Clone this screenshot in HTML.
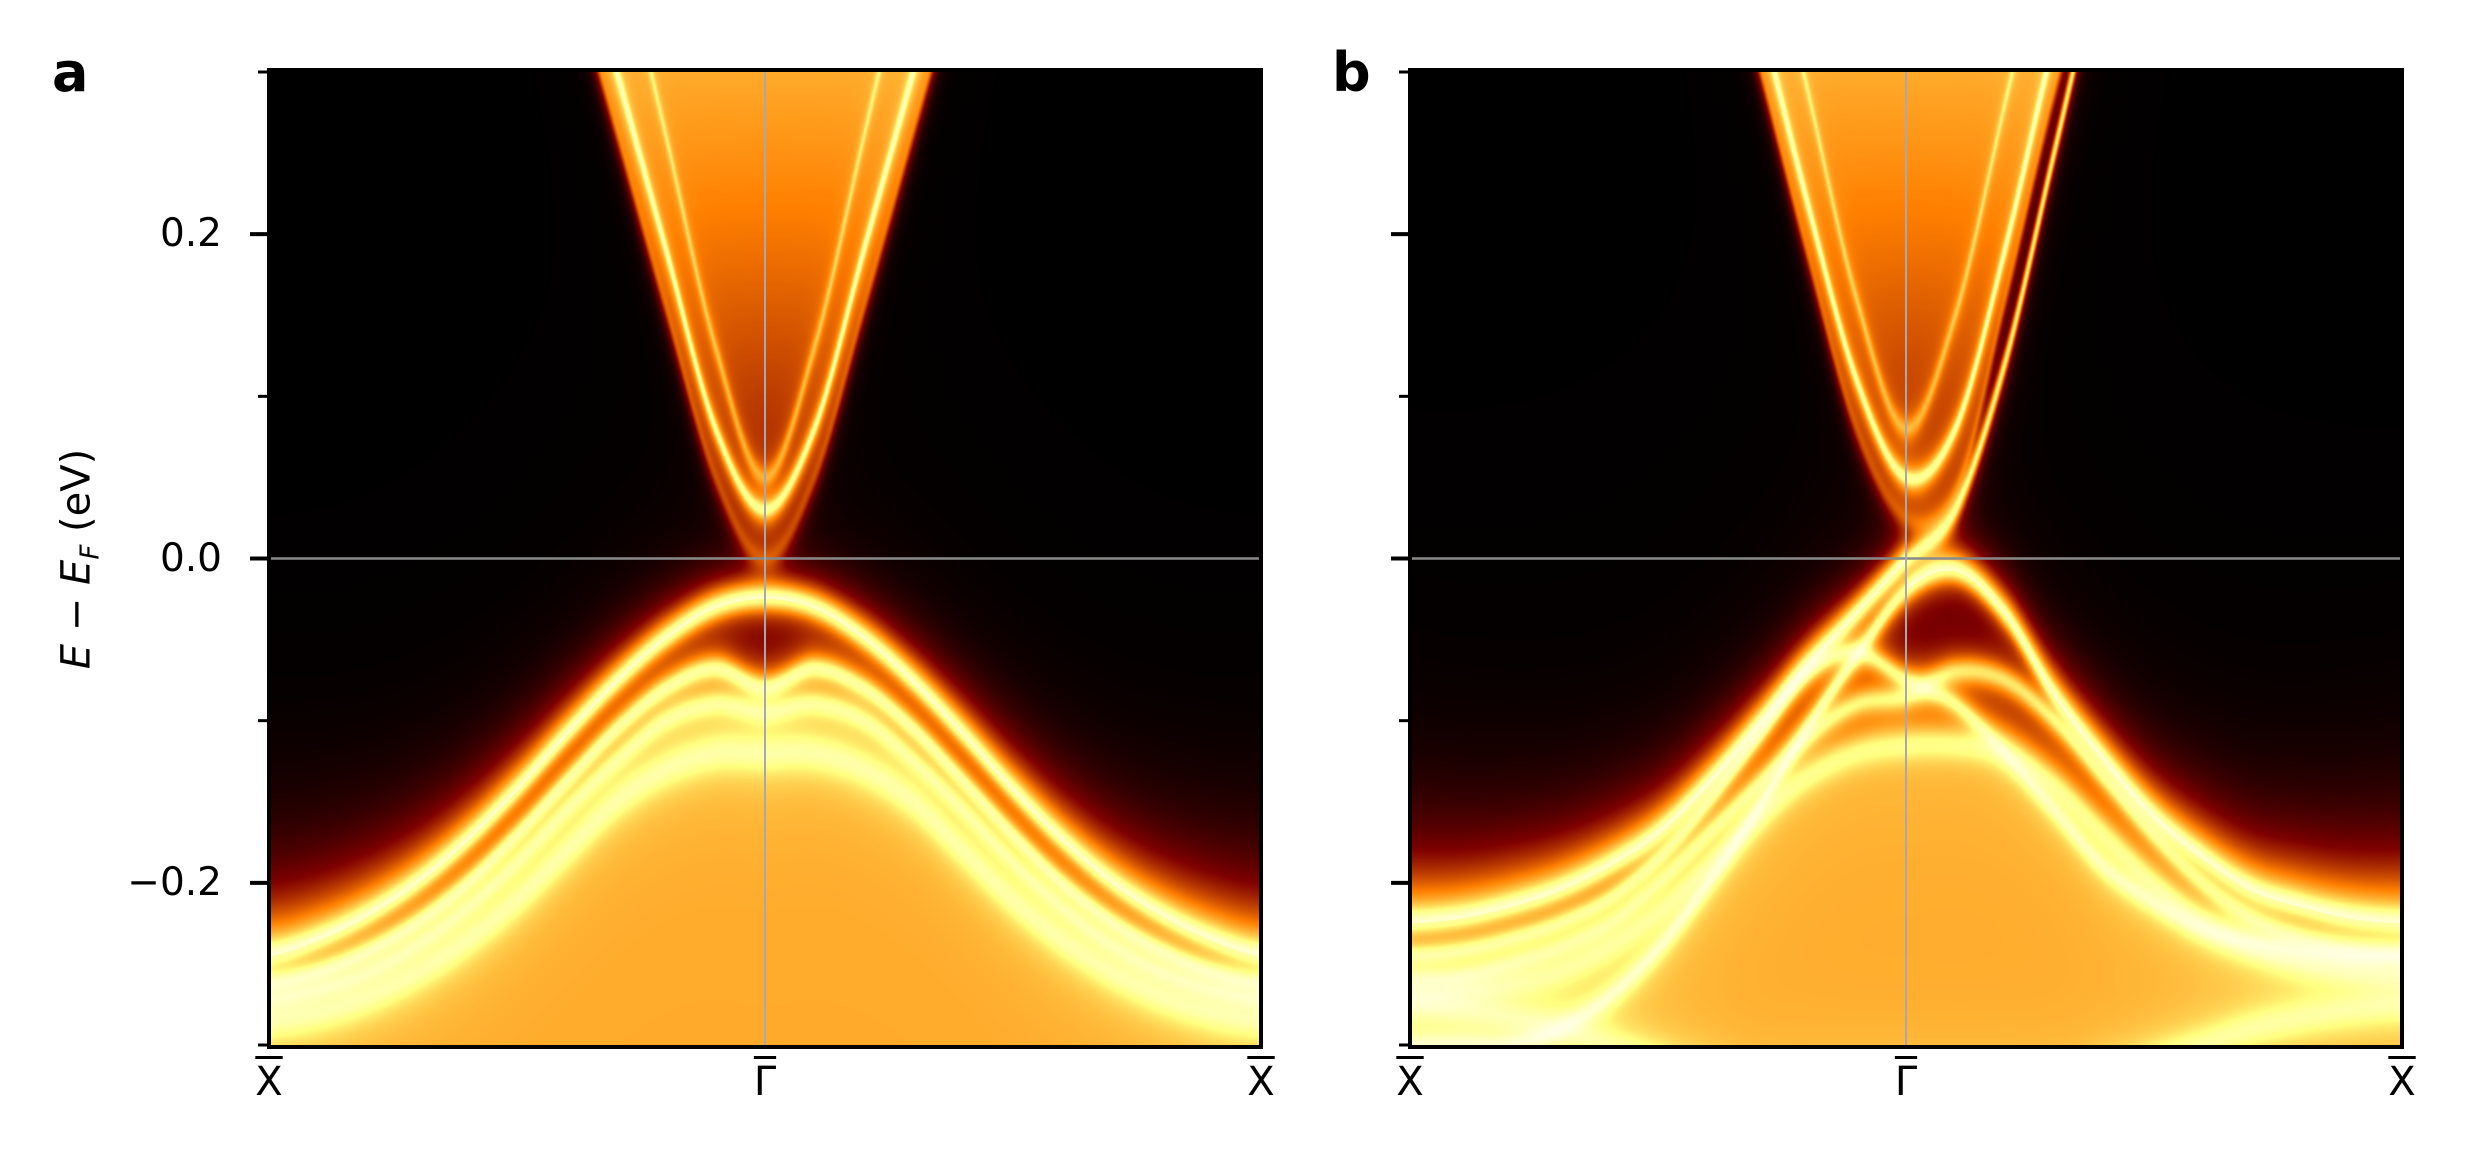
<!DOCTYPE html>
<html><head><meta charset="utf-8">
<style>
body{margin:0;background:#fff;width:2480px;height:1176px;overflow:hidden;position:relative;font-family:"DejaVu Sans","Liberation Sans",sans-serif;}
.panel{position:absolute;top:68px;width:996px;height:981px;box-sizing:border-box;border:4px solid #000;background:#000;}
.panel canvas{position:absolute;left:0;top:0;width:988px;height:973px;}
.lbl{position:absolute;font-size:39px;color:#000;line-height:1;white-space:nowrap;}
.xl{position:absolute;top:1062px;font-size:40px;line-height:1;transform:translateX(-50%);text-decoration:overline;text-decoration-thickness:3px;}
.letter{position:absolute;font-weight:bold;font-size:54px;line-height:1;}
</style></head><body>
<div class="letter" style="left:52px;top:46px;">a</div>
<div class="letter" style="left:1332px;top:46px;">b</div>
<div class="panel" id="pa" style="left:267px;"><canvas id="ca" width="988" height="973"></canvas></div>
<div class="panel" id="pb" style="left:1408px;"><canvas id="cb" width="988" height="973"></canvas></div>
<div class="lbl" style="left:80px;top:559px;transform:translate(-50%,-50%) rotate(-90deg);font-size:40px;"><i>E</i> − <i>E</i><sub style="font-size:26px;"><i>F</i></sub> (eV)</div>
<svg id="ax" width="2480" height="1176" style="position:absolute;left:0;top:0;"></svg>
<div id="labels"></div>
<script>
// ---- data ----
const kNodes = [0,0.05,0.1,0.15,0.2,0.25,0.3,0.35,0.4,0.45,0.5,0.55,0.6,0.65,0.7,0.75,0.8,0.85,0.9,0.95,1.0];
// panel a (eV)
const aC1 = [1.0,0.9,0.8,0.7,0.6,0.49,0.375,0.265,0.155,0.05,0.0,0.05,0.155,0.265,0.375,0.49,0.6,0.7,0.8,0.9,1.0];
const aC2 = [1.05,0.95,0.85,0.74,0.63,0.52,0.41,0.30,0.19,0.08,0.03,0.08,0.19,0.30,0.41,0.52,0.63,0.74,0.85,0.95,1.05];
const aC3 = [1.3,1.2,1.05,0.9,0.78,0.65,0.52,0.39,0.26,0.13,0.05,0.13,0.26,0.39,0.52,0.65,0.78,0.9,1.05,1.2,1.3];
const aV1 = [-0.245,-0.235,-0.22,-0.2,-0.174,-0.143,-0.109,-0.077,-0.05,-0.031,-0.025,-0.031,-0.05,-0.077,-0.109,-0.143,-0.174,-0.2,-0.22,-0.235,-0.245];
const aV2 = [-0.262,-0.255,-0.242,-0.224,-0.2,-0.17,-0.137,-0.105,-0.08,-0.068,-0.08,-0.068,-0.08,-0.105,-0.137,-0.17,-0.2,-0.224,-0.242,-0.255,-0.262];
const aV3 = [-0.272,-0.266,-0.255,-0.238,-0.215,-0.187,-0.155,-0.125,-0.1,-0.09,-0.095,-0.09,-0.1,-0.125,-0.155,-0.187,-0.215,-0.238,-0.255,-0.266,-0.272];
const aV4 = [-0.285,-0.28,-0.27,-0.255,-0.235,-0.21,-0.18,-0.15,-0.13,-0.12,-0.12,-0.12,-0.13,-0.15,-0.18,-0.21,-0.235,-0.255,-0.27,-0.28,-0.285];
// panel b (eV)
const bC1 = [1.0,0.9,0.8,0.7,0.62,0.52,0.42,0.31,0.19,0.08,0.025,0.04,0.16,0.29,0.40,0.5,0.6,0.7,0.8,0.9,1.0];
const bC2 = [1.05,0.95,0.85,0.75,0.66,0.56,0.45,0.34,0.22,0.11,0.05,0.08,0.19,0.32,0.43,0.53,0.63,0.73,0.83,0.93,1.03];
const bC3 = [1.3,1.2,1.05,0.92,0.8,0.68,0.55,0.42,0.29,0.16,0.08,0.15,0.28,0.41,0.54,0.67,0.8,0.92,1.05,1.2,1.3];
const bV1 = [-0.225,-0.222,-0.215,-0.205,-0.19,-0.17,-0.14,-0.105,-0.068,-0.035,-0.002,0.03,0.12,0.25,0.38,0.5,0.6,0.7,0.8,0.9,1.0];
const bV2 = [-0.3,-0.3,-0.3,-0.29,-0.27,-0.24,-0.2,-0.155,-0.105,-0.06,-0.02,-0.008,-0.035,-0.085,-0.125,-0.16,-0.185,-0.205,-0.215,-0.222,-0.225];
const bV3 = [-0.245,-0.242,-0.235,-0.225,-0.21,-0.185,-0.15,-0.11,-0.07,-0.058,-0.075,-0.09,-0.12,-0.155,-0.19,-0.212,-0.228,-0.237,-0.242,-0.245,-0.245];
const bV4 = [-0.26,-0.258,-0.25,-0.24,-0.225,-0.2,-0.17,-0.14,-0.11,-0.09,-0.085,-0.07,-0.075,-0.1,-0.135,-0.17,-0.2,-0.222,-0.235,-0.242,-0.245];
const bV5 = [-0.27,-0.268,-0.263,-0.255,-0.24,-0.218,-0.19,-0.16,-0.135,-0.12,-0.115,-0.115,-0.12,-0.14,-0.17,-0.2,-0.225,-0.24,-0.25,-0.255,-0.258];
const bV6 = [-0.275,-0.278,-0.283,-0.29,-0.3,-0.31,-0.32,-0.33,-0.33,-0.33,-0.33,-0.33,-0.33,-0.33,-0.32,-0.31,-0.3,-0.29,-0.283,-0.278,-0.275];
const yTicksMajor = [-0.2,0.0,0.2];
const yTickLabels = ["−0.2","0.0","0.2"];
const yTicksMinor = [-0.3,-0.1,0.1,0.3];
const xTickPos = [0,0.5,1];
const xTickLabels = ["X","Γ","X"];
const eMin=-0.3, eMax=0.3;

function interp(arr,k){
  const n=arr.length-1; let t=k*n; let i=Math.floor(t); if(i>=n)i=n-1; if(i<0)i=0; const f=t-i;
  const p0=arr[Math.max(0,i-1)],p1=arr[i],p2=arr[i+1],p3=arr[Math.min(n,i+2)];
  return 0.5*((2*p1)+(-p0+p2)*f+(2*p0-5*p1+4*p2-p3)*f*f+(-p0+3*p1-3*p2+p3)*f*f*f);
}
function afm(x){x=Math.max(0,Math.min(1,x));return [Math.min(1,2*x)*255,Math.max(0,Math.min(1,2*x-0.5))*255,Math.max(0,Math.min(1,2*x-1))*255];}
function sig(z){return 1/(1+Math.exp(-z));}
function render(id,bands,amps,gams,cone,fillEnv,glowFn){
  const c=document.getElementById(id),ctx=c.getContext('2d'),W=c.width,Hh=c.height;
  const img=ctx.createImageData(W,Hh),d=img.data;
  for(let px=0;px<W;px++){
    const k=(px+0.5)/W;
    const eb=bands.map(b=>interp(b,k));
    const ec=interp(cone,k), ef=interp(fillEnv,k), eg=glowFn(k);
    const dk=Math.abs(k-0.5), w=0.008+0.05*dk;
    for(let py=0;py<Hh;py++){
      const E=eMax-(py+0.5)/Hh*(eMax-eMin);
      let I=0;
      for(let j=0;j<eb.length;j++){const g=gams[j],de=E-eb[j];I+=amps[j]*g*g/(de*de+g*g);}
      I+=(0.22+0.65*Math.max(0,E)/0.3)*sig((E-ec)/0.008);
      I+=0.75*sig((ef-E)/0.012);
      if(E>eg) I+=0.9*Math.exp(-(E-eg)/w); else I+=0.12;
      const x=1-Math.exp(-I), col=afm(x), o=(py*W+px)*4;
      d[o]=col[0];d[o+1]=col[1];d[o+2]=col[2];d[o+3]=255;
    }
  }
  ctx.putImageData(img,0,0);
}
render('ca',[aC1,aC2,aC3,aV1,aV2,aV3,aV4],[0.3,1.2,0.5,1.3,1.3,1.0,0.9],[0.008,0.005,0.006,0.006,0.006,0.007,0.01],aC1,aV3,k=>interp(aV1,k));
render('cb',[bC1,bC2,bC3,bV1,bV2,bV3,bV4,bV5,bV6],[0.3,1.2,0.5,1.3,1.3,1.1,1.0,0.9,0.8],[0.008,0.005,0.006,0.006,0.006,0.006,0.007,0.01,0.01],bC1,bV5,k=>Math.max(interp(bV2,k),k<=0.5?interp(bV1,k):-1));

// ---- axes ----
const svg=document.getElementById('ax'),NS='http://www.w3.org/2000/svg';
const P=[{left:267,name:'a',labels:true},{left:1408,name:'b',labels:false}];
const topY=68,boxH=981,inL=4,innerH=973,innerW=988;
function yS(e){return topY+inL+(eMax-e)/(eMax-eMin)*innerH;}
function line(x1,y1,x2,y2,stroke,sw,name){const l=document.createElementNS(NS,'line');l.setAttribute('x1',x1);l.setAttribute('y1',y1);l.setAttribute('x2',x2);l.setAttribute('y2',y2);l.setAttribute('stroke',stroke);l.setAttribute('stroke-width',sw);


svg.appendChild(l);}
const lab=document.getElementById('labels');
P.forEach(p=>{
  const xS=k=>p.left+inL+k*innerW;
  line(p.left+inL,yS(0),p.left+inL+innerW,yS(0),'#8a8a8a',2.5,'fermi-level-line-'+p.name);
  line(xS(0.5),topY+inL,xS(0.5),topY+inL+innerH,'#a8a8b0',2,'gamma-line-'+p.name);
  yTicksMajor.forEach((e,i)=>{
    line(p.left-17,yS(e),p.left+2,yS(e),'#000',4,'y-major-tick');
    if(p.labels){const t=document.createElement('div');t.className='lbl';t.textContent=yTickLabels[i];
      
      
      t.style.right=(2480-222)+'px';t.style.top=(yS(e)-20)+'px';lab.appendChild(t);}
  });
  yTicksMinor.forEach(e=>{line(p.left-9,yS(e),p.left+2,yS(e),'#000',3,'y-minor-tick');});
  xTickPos.forEach((k,i)=>{
    const x=p.left+2+k*(innerW+4);
    const t=document.createElement('div');t.className='xl';
    
    
    t.style.left=x+'px';t.textContent=xTickLabels[i];lab.appendChild(t);
  });
});
</script>
</body></html>
